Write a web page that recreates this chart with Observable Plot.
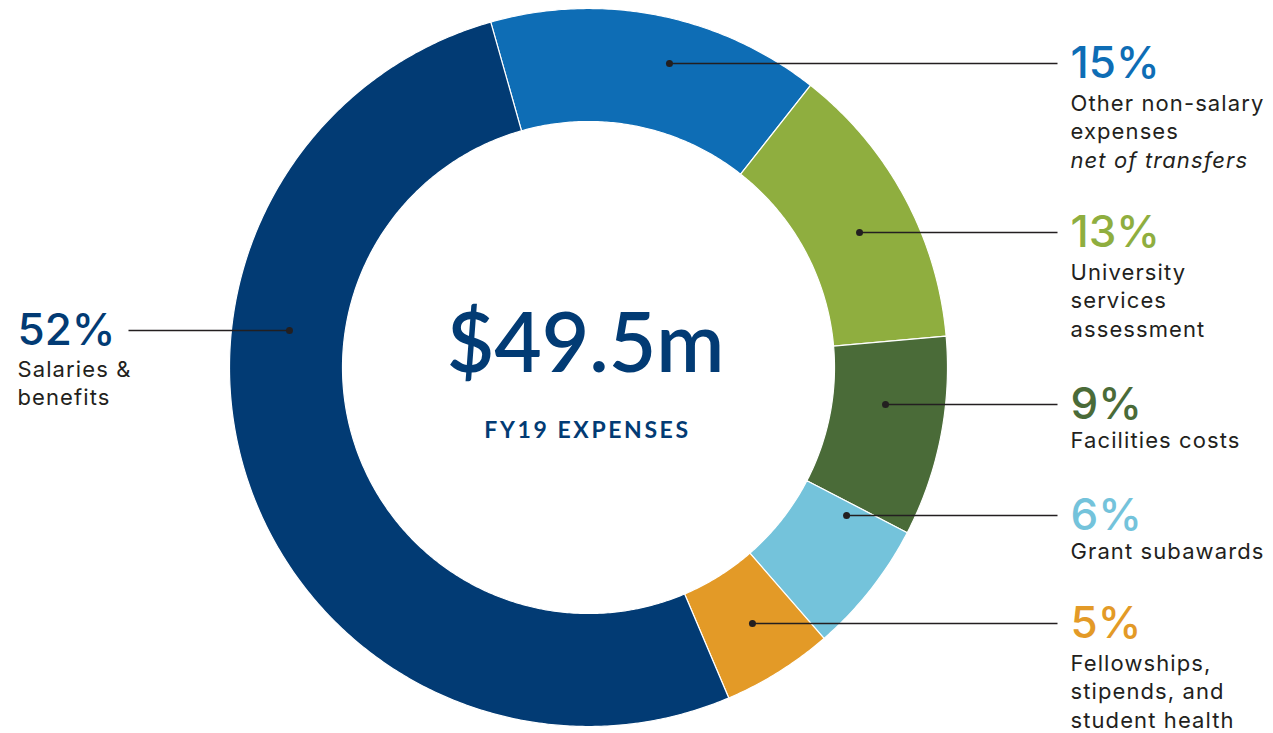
<!DOCTYPE html>
<html>
<head>
<meta charset="utf-8">
<script src="https://cdn.jsdelivr.net/npm/d3@7"></script>
<script src="https://cdn.jsdelivr.net/npm/@observablehq/plot@0.6"></script>
<style>
  html, body { margin: 0; padding: 0; background: #ffffff; }
  #chart { width: 1273px; height: 733px; overflow: hidden; }
  #chart svg g[aria-label="text"][fill="#231f20"] { letter-spacing: 1.1px; }
</style>
</head>
<body>
<div id="chart"></div>
<script>
// ---- Data (clockwise from the top) ----
const categories = [
  "Other non-salary expenses",
  "University services assessment",
  "Facilities costs",
  "Grant subawards",
  "Fellowships, stipends, and student health",
  "Salaries & benefits"
];
const shares = [15, 13, 9, 6, 5, 52];
const pctLabels = ["15%", "13%", "9%", "6%", "5%", "52%"];
const descLabels = [
  "Other non-salary\nexpenses",
  "University\nservices\nassessment",
  "Facilities costs",
  "Grant subawards",
  "Fellowships,\nstipends, and\nstudent health",
  "Salaries &\nbenefits"
];
const noteLabels = ["net of transfers", "", "", "", "", ""];
const colors = ["#0e6db5", "#8fae3f", "#4a6b38", "#74c3db", "#e39a27", "#023b74"];
const totalLabel = "$49.5m";
const totalCaption = "FY19 EXPENSES";

// ---- Layout ----
const W = 1273, H = 733;
const cx = 588, cy = 367, rOuter = 359, rInner = 246;
const startDeg = -15.8;
const labelY = [63, 232, 404, 515, 623, 330];   // callout rows
const descGap = [47, 47, 43, 43, 47, 46];        // pct row -> first description baseline
const dotR = [314.6, 302.8, 299.3, 297.5, 304, 301.3];
const side = [1, 1, 1, 1, 1, -1];
const textColor = "#231f20";
const bodyFont = "Inter, 'Open Sans', sans-serif";
const headFont = "Lato, 'Open Sans', sans-serif";

const start = startDeg * Math.PI / 180;
const arcs = d3.pie().sort(null).startAngle(start).endAngle(start + 2 * Math.PI)(shares);

const slices = arcs.map((a, i) => {
  const n = Math.max(8, Math.ceil((a.endAngle - a.startAngle) / (Math.PI / 360)));
  const pts = [];
  for (let k = 0; k <= n; ++k) {
    const t = a.startAngle + (a.endAngle - a.startAngle) * k / n;
    pts.push({x: cx + rOuter * Math.sin(t), y: cy - rOuter * Math.cos(t)});
  }
  for (let k = n; k >= 0; --k) {
    const t = a.startAngle + (a.endAngle - a.startAngle) * k / n;
    pts.push({x: cx + rInner * Math.sin(t), y: cy - rInner * Math.cos(t)});
  }
  pts.push(pts[0]);
  return pts;
});

const callouts = categories.map((c, i) => {
  const dy = labelY[i] - cy;
  const dx = Math.sqrt(Math.max(0, dotR[i] * dotR[i] - dy * dy));
  const right = side[i] > 0;
  return {
    cat: c,
    pct: pctLabels[i],
    desc: descLabels[i],
    note: noteLabels[i],
    color: colors[i],
    gap: descGap[i],
    dotX: cx + side[i] * dx,
    y: labelY[i],
    lineEnd: right ? 1057 : 128,
    textX: right ? 1070 : 17
  };
});

const descSize = 22, descLH = 1.3;
const descY = d => d.y + d.gap - 0.71 * descLH * descSize;

const chart = Plot.plot({
  width: W,
  height: H,
  margin: 0,
  x: {domain: [0, W], range: [0, W], axis: null},
  y: {domain: [0, H], range: [0, H], axis: null},
  color: {type: "identity"},
  style: {background: "#ffffff", fontFamily: bodyFont, overflow: "visible"},
  marks: [
    ...slices.map((pts, i) => Plot.line(pts, {
      x: "x", y: "y", fill: colors[i], stroke: "#ffffff", strokeWidth: 1.2, curve: "linear"
    })),
    Plot.link(callouts, {x1: "dotX", x2: "lineEnd", y1: "y", y2: "y", stroke: textColor, strokeWidth: 1.5}),
    Plot.dot(callouts, {x: "dotX", y: "y", r: 3.5, fill: textColor, stroke: null}),
    Plot.text(callouts, {
      x: "textX", y: "y", text: "pct", fill: "color", fontFamily: bodyFont,
      fontSize: 44, fontWeight: 500, textAnchor: "start", lineAnchor: "middle"
    }),
    Plot.text(callouts, {
      x: "textX", y: descY, text: "desc", fill: textColor,
      fontSize: descSize, lineHeight: descLH, textAnchor: "start", lineAnchor: "top"
    }),
    Plot.text(callouts.filter(d => d.note), {
      x: "textX", y: d => descY(d) + 2 * descLH * descSize, text: "note", fill: textColor,
      fontSize: descSize, lineHeight: descLH, fontStyle: "italic", textAnchor: "start", lineAnchor: "top"
    }),
    Plot.text([totalLabel], {
      x: cx - 3, y: 345, text: d => d, fill: colors[5], fontFamily: headFont,
      fontSize: 82, fontWeight: 600, textAnchor: "middle", lineAnchor: "middle"
    }),
    Plot.text([totalCaption], {
      x: cx - 1, y: 430, text: d => d, fill: colors[5], fontFamily: headFont,
      fontSize: 23, fontWeight: 700, textAnchor: "middle", lineAnchor: "middle"
    })
  ]
});

d3.select(chart).selectAll("text").filter(function() { return this.textContent === totalCaption; })
  .attr("letter-spacing", "2.6px");

document.getElementById("chart").appendChild(chart);
</script>
</body>
</html>
